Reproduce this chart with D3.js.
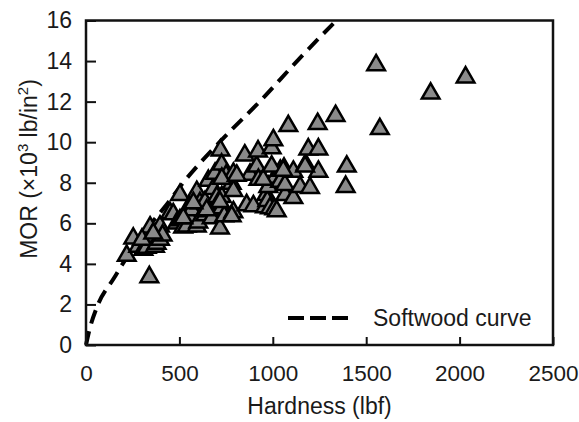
<!DOCTYPE html>
<html>
<head>
<meta charset="utf-8">
<script src="https://cdn.jsdelivr.net/npm/d3@7"></script>
<style>
  body { margin: 0; background: #fff; }
  text { font-family: 'Liberation Sans', Arial, sans-serif; fill: #1a1a1a; }
</style>
</head>
<body>
<svg width="579" height="422"></svg>
<script>
// hardwood species
const hardness = [218, 253, 280, 307, 325, 343, 352, 369, 378, 396, 396, 339, 410, 300, 360,
  450, 467, 486, 503, 503, 520, 539, 557, 557, 566, 593, 593, 601, 610, 637, 637, 655, 660,
  673, 682, 691, 700, 717, 720, 726, 727, 727, 740, 750, 780, 789, 789, 789, 850, 860, 878,
  896, 914, 921, 923, 958, 965, 971, 976, 985, 994, 1003, 1008, 1012, 1021, 1040, 1039, 1060,
  1066, 1065, 1083, 1110, 1110, 1146, 1176, 1190, 1199, 1244, 1244, 1240, 1336, 1396, 1390,
  1553, 1573, 1845, 2032, 949, 994, 1056, 1173, 727, 717, 780, 646, 575, 521, 807]
const mor = [4.4, 5.25, 4.85, 4.7, 4.8, 5.8, 5.35, 4.85, 5.0, 5.2, 5.85, 3.35, 5.4, 5.2, 5.5,
  6.5, 6.45, 6.0, 7.4, 6.15, 5.8, 5.85, 6.9, 6.25, 6.65, 7.55, 5.85, 6.05, 7.0, 7.05, 6.4, 8.1, 6.6,
  6.25, 7.7, 8.45, 7.3, 5.75, 9.6, 8.9, 6.75, 7.3, 6.35, 8.35, 7.95, 8.45, 7.6, 6.55, 9.35, 6.9, 8.4,
  6.85, 8.8, 9.55, 8.15, 6.8, 7.4, 7.1, 7.8, 6.75, 9.7, 10.1, 6.7, 8.25, 6.6, 8.6, 8.05, 8.7,
  7.4, 7.9, 10.8, 8.55, 7.25, 7.8, 8.9, 9.65, 7.75, 9.65, 8.55, 10.9, 11.3, 8.8, 7.8,
  13.8, 10.65, 12.4, 13.2, 8.15, 8.8, 8.6, 8.8, 8.2, 7.05, 6.35, 6.65, 7.0, 6.25, 8.35]

// softwood curve, traced points
const curveH = [0, 20, 60, 150, 210, 350, 430, 520, 715, 940, 1140, 1340]
const curveMor = [0, 0.8, 1.9, 3.3, 4.2, 6.0, 6.9, 8.0, 10.0, 12.1, 14.1, 16]

const xTicks = [0, 500, 1000, 1500, 2000, 2500]
const yTicks = [0, 2, 4, 6, 8, 10, 12, 14, 16]

const plotLeft = 86
const plotRight = 553
const plotTop = 20.5
const plotBottom = 345

const svg = d3.select('svg')
const x = d3.scaleLinear().domain([0, 2500]).range([plotLeft, plotRight])
const y = d3.scaleLinear().domain([0, 16]).range([plotBottom, plotTop])

// axes, ticks pointing in
const gx = svg.append('g')
  .attr('transform', `translate(0,${plotBottom})`)
  .call(d3.axisBottom(x).tickValues(xTicks).tickFormat(d3.format('d')).tickSize(-8).tickPadding(20))
gx.select('.domain').remove()
gx.selectAll('line').attr('stroke', '#111').attr('stroke-width', 2)
gx.selectAll('text').attr('font-size', 22.5).style('font-family', null)

const gy = svg.append('g')
  .attr('transform', `translate(${plotLeft},0)`)
  .call(d3.axisLeft(y).tickValues(yTicks).tickFormat(d3.format('d')).tickSize(-10).tickPadding(14))
gy.select('.domain').remove()
gy.selectAll('line').attr('stroke', '#111').attr('stroke-width', 2)
gy.selectAll('text').attr('font-size', 23).style('font-family', null)

// softwood curve
const line = d3.line()
  .x(i => x(curveH[i]))
  .y(i => y(curveMor[i]))
  .curve(d3.curveMonotoneX)
svg.append('path')
  .attr('d', line(d3.range(curveH.length)))
  .attr('fill', 'none')
  .attr('stroke', '#000')
  .attr('stroke-width', 4)
  .attr('stroke-dasharray', '14,8')

// points
const tri = d3.symbol().type(d3.symbolTriangle).size(135)
svg.append('g')
  .selectAll('path')
  .data(d3.range(hardness.length))
  .join('path')
  .attr('d', tri)
  .attr('transform', i => `translate(${x(hardness[i])},${y(mor[i])})`)
  .attr('fill', '#8a8a8a')
  .attr('stroke', '#000')
  .attr('stroke-width', 2.5)

// frame
svg.append('rect')
  .attr('x', plotLeft).attr('y', plotTop)
  .attr('width', plotRight - plotLeft).attr('height', plotBottom - plotTop)
  .attr('fill', 'none')
  .attr('stroke', '#111')
  .attr('stroke-width', 2.5)

// legend
svg.append('line')
  .attr('x1', 288).attr('x2', 348)
  .attr('y1', 318).attr('y2', 318)
  .attr('stroke', '#000')
  .attr('stroke-width', 4)
  .attr('stroke-dasharray', '16,6')
svg.append('text')
  .attr('x', 373).attr('y', 325.5)
  .attr('font-size', 23)
  .text('Softwood curve')

// axis titles
svg.append('text')
  .attr('x', (plotLeft + plotRight) / 2).attr('y', 414)
  .attr('text-anchor', 'middle')
  .attr('font-size', 23)
  .text('Hardness (lbf)')

const yl = svg.append('text')
  .attr('transform', 'translate(37,169) rotate(-90)')
  .attr('text-anchor', 'middle')
  .attr('font-size', 23)
yl.append('tspan').text('MOR (×10')
yl.append('tspan').attr('dy', -9).attr('font-size', 15).text('3')
yl.append('tspan').attr('dy', 9).text(' lb/in')
yl.append('tspan').attr('dy', -9).attr('font-size', 15).text('2')
yl.append('tspan').attr('dy', 9).text(')')
</script>
</body>
</html>
